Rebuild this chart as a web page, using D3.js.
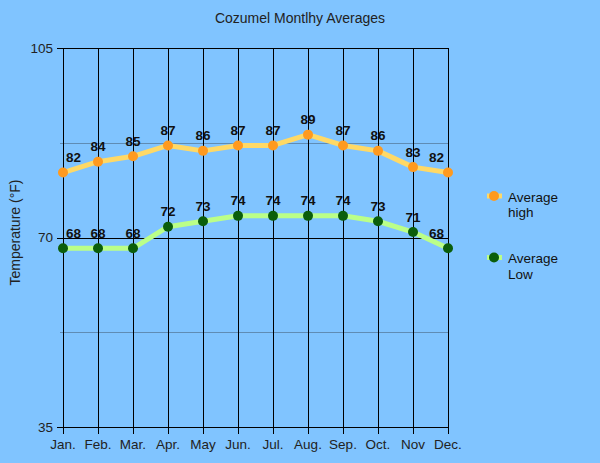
<!DOCTYPE html>
<html>
<head>
<meta charset="utf-8">
<script src="https://cdn.jsdelivr.net/npm/d3@7"></script>
<style>
  body { margin: 0; background: #80c4ff; }
  svg { display: block; font-family: Arial, "Liberation Sans", sans-serif; }
</style>
</head>
<body>
<div id="chart"></div>
<script>
const months = ["Jan.", "Feb.", "Mar.", "Apr.", "May", "Jun.", "Jul.", "Aug.", "Sep.", "Oct.", "Nov", "Dec."];
const avgHigh = [82, 84, 85, 87, 86, 87, 87, 89, 87, 86, 83, 82];
const avgLow = [68, 68, 68, 72, 73, 74, 74, 74, 74, 73, 71, 68];
const yTicks = [35, 70, 105];
const yMinor = [52.5, 87.5];

const width = 600;
const height = 463;
const plotLeft = 63, plotRight = 448, plotTop = 48, plotBottom = 427;

const series = [
  { name: ["Average", "high"], values: avgHigh, line: "#ffd966", dot: "#ff9a1f" },
  { name: ["Average", "Low"], values: avgLow, line: "#bbff88", dot: "#0b5e0b" }
];

const x = d3.scalePoint().domain(months).range([plotLeft, plotRight]).padding(0);
const y = d3.scaleLinear().domain([35, 105]).range([plotBottom, plotTop]);

const svg = d3.select("#chart")
  .append("svg")
  .attr("width", width)
  .attr("height", height);

svg.append("rect")
  .attr("width", width)
  .attr("height", height)
  .attr("fill", "#80c4ff");

// title
svg.append("text")
  .attr("x", 300)
  .attr("y", 23)
  .attr("text-anchor", "middle")
  .attr("font-size", "14px")
  .attr("fill", "#222")
  .text("Cozumel Montlhy Averages");

// minor grid
svg.append("g")
  .selectAll("line")
  .data(yMinor)
  .join("line")
  .attr("x1", plotLeft - 3)
  .attr("x2", plotRight)
  .attr("y1", d => Math.round(y(d)) + 0.5)
  .attr("y2", d => Math.round(y(d)) + 0.5)
  .attr("stroke", "#5f8cb4")
  .attr("stroke-width", 1);

// vertical month lines
svg.append("g")
  .selectAll("line")
  .data(months)
  .join("line")
  .attr("x1", d => Math.round(x(d)) + 0.5)
  .attr("x2", d => Math.round(x(d)) + 0.5)
  .attr("y1", plotTop)
  .attr("y2", plotBottom + 7)
  .attr("stroke", "#000")
  .attr("stroke-width", 1);

// major horizontal lines
svg.append("g")
  .selectAll("line")
  .data(yTicks)
  .join("line")
  .attr("x1", plotLeft - 6)
  .attr("x2", plotRight + 1)
  .attr("y1", d => Math.round(y(d)) + 0.5)
  .attr("y2", d => Math.round(y(d)) + 0.5)
  .attr("stroke", "#000")
  .attr("stroke-width", 1);

// y labels
svg.append("g")
  .selectAll("text")
  .data(yTicks)
  .join("text")
  .attr("x", plotLeft - 10)
  .attr("y", d => y(d))
  .attr("dy", "0.35em")
  .attr("text-anchor", "end")
  .attr("font-size", "13.5px")
  .attr("fill", "#222")
  .text(d => d);

// x labels
svg.append("g")
  .selectAll("text")
  .data(months)
  .join("text")
  .attr("x", d => x(d))
  .attr("y", 449)
  .attr("text-anchor", "middle")
  .attr("font-size", "13.5px")
  .attr("fill", "#222")
  .text(d => d);

// y axis title
svg.append("text")
  .attr("transform", "translate(20,232.5) rotate(-90)")
  .attr("text-anchor", "middle")
  .attr("font-size", "14px")
  .attr("fill", "#222")
  .text("Temperature (°F)");

const line = d3.line()
  .x((d, i) => x(months[i]))
  .y(d => y(d));

series.forEach(s => {
  svg.append("path")
    .datum(s.values)
    .attr("d", line)
    .attr("fill", "none")
    .attr("stroke", s.line)
    .attr("stroke-width", 5)
    .attr("stroke-linejoin", "round");

  svg.append("g")
    .selectAll("circle")
    .data(s.values)
    .join("circle")
    .attr("cx", (d, i) => x(months[i]))
    .attr("cy", d => y(d))
    .attr("r", 5)
    .attr("fill", s.dot);

  // point labels, the end ones are nudged inside
  svg.append("g")
    .selectAll("text")
    .data(s.values)
    .join("text")
    .attr("x", (d, i) => x(months[i]) + (i === 0 ? 3 : i === months.length - 1 ? -4 : 0))
    .attr("y", d => y(d) - 10.5)
    .attr("text-anchor", (d, i) => i === 0 ? "start" : i === months.length - 1 ? "end" : "middle")
    .attr("font-size", "13.5px")
    .attr("font-weight", "bold")
    .attr("fill", "#111")
    .text(d => d);
});

// legend
const legend = svg.append("g");
series.forEach((s, i) => {
  const ly = 196 + i * 61.5;
  const g = legend.append("g").attr("transform", `translate(0,${ly})`);
  g.append("line")
    .attr("x1", 487).attr("x2", 502)
    .attr("stroke", s.line)
    .attr("stroke-width", 5);
  g.append("circle")
    .attr("cx", 494)
    .attr("r", 5)
    .attr("fill", s.dot);
  g.selectAll("text")
    .data(s.name)
    .join("text")
    .attr("x", 508)
    .attr("y", (d, j) => 5.5 + j * 15.5)
    .attr("font-size", "13.5px")
    .attr("fill", "#111")
    .text(d => d);
});
</script>
</body>
</html>
